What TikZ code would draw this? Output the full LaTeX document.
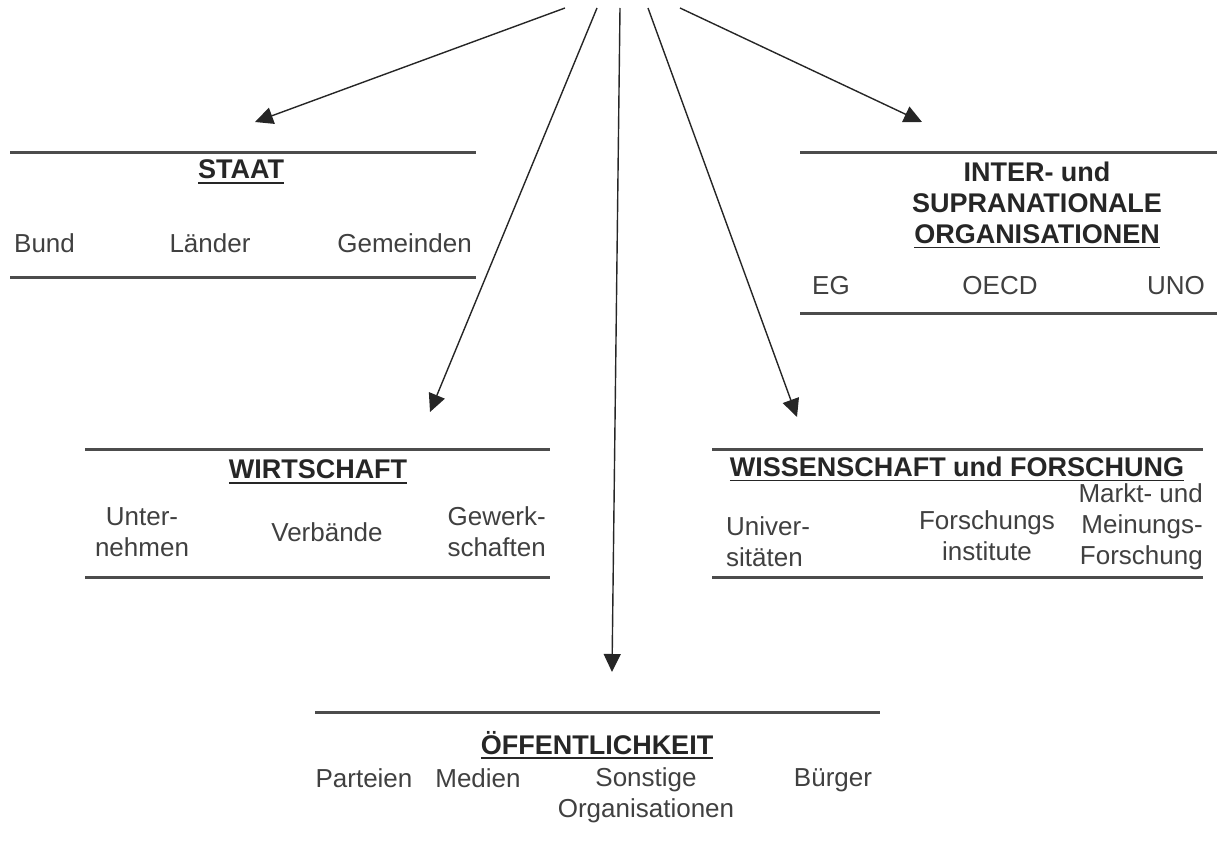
\documentclass[tikz,border=0pt]{standalone}
\usepackage{fontspec}
\setmainfont{Liberation Sans}
\usetikzlibrary{arrows.meta}
\newcommand\hdline[1]{\setbox0\hbox{#1}\rlap{\rule[-5pt]{\wd0}{1.6pt}}\box0}

\begin{document}
\begin{tikzpicture}[x=1pt,y=-1pt,
    bar/.style={line width=3pt,draw=black!70},
    arr/.style={draw=black!85,line width=1.4pt,-{Triangle[length=18pt,width=17pt]}},
    head/.style={font=\fontsize{27}{31}\selectfont\bfseries,text=black!85,inner sep=0pt},
    item/.style={font=\fontsize{26}{31}\selectfont,text=black!75,inner sep=0pt}]
    \useasboundingbox (0,0) rectangle (1219,856);

    \coordinate (srcStaat) at (565,8);
    \coordinate (srcWirt) at (597,8);
    \coordinate (srcOeff) at (620,8);
    \coordinate (srcWiss) at (648,8);
    \coordinate (srcInter) at (680,8);
    \coordinate (tipStaat) at (255,122);
    \coordinate (tipWirt) at (430,412);
    \coordinate (tipOeff) at (612,672);
    \coordinate (tipWiss) at (797,417);
    \coordinate (tipInter) at (922,122);

    \draw[bar] (10,153) -- (476,153);
    \node[head] (staat) at (241,172) {\hdline{STAAT}};
    \node[item,anchor=west] (bund) at (14,243) {Bund};
    \node[item] (laender) at (210,243) {Länder};
    \node[item,anchor=east] (gemeinden) at (472,243) {Gemeinden};
    \draw[bar] (10,277) -- (476,277);

    \draw[bar] (800,153) -- (1217,153);
    \node[head,align=center] (inter) at (1037,205) {INTER- und\\SUPRANATIONALE\\\hdline{ORGANISATIONEN}};
    \node[item,anchor=west] (eg) at (812,286) {EG};
    \node[item] (oecd) at (1000,286) {OECD};
    \node[item,anchor=east] (uno) at (1205,286) {UNO};
    \draw[bar] (800,313) -- (1217,313);

    \draw[bar] (85,449) -- (550,449);
    \node[head] (wirtschaft) at (318,472) {\hdline{WIRTSCHAFT}};
    \node[item,align=center] (unternehmen) at (142,532) {Unter-\\nehmen};
    \node[item] (verbaende) at (327,532) {Verbände};
    \node[item,align=right,anchor=east] (gewerkschaften) at (546,532) {Gewerk-\\schaften};
    \draw[bar] (85,577) -- (550,577);

    \draw[bar] (712,449) -- (1203,449);
    \node[head] (wissenschaft) at (957,469) {\hdline{WISSENSCHAFT und FORSCHUNG}};
    \node[item,align=left,anchor=west] (unis) at (726,542) {Univer-\\sitäten};
    \node[item,align=center] (institute) at (987,536) {Forschungs\\institute};
    \node[item,align=right,anchor=east] (markt) at (1203,527) {Markt- und\\Meinungs-\\Forschung};
    \draw[bar] (712,577) -- (1203,577);

    \draw[bar] (315,712) -- (880,712);
    \node[head] (oeff) at (597,745) {\hdline{ÖFFENTLICHKEIT}};
    \node[item] (parteien) at (364,778) {Parteien};
    \node[item] (medien) at (478,778) {Medien};
    \node[item,align=center] (sonstige) at (646,795) {Sonstige\\Organisationen};
    \node[item] (buerger) at (833,780) {Bürger};

    \draw[arr] (srcStaat) -- (tipStaat);
    \draw[arr] (srcWirt) -- (tipWirt);
    \draw[arr] (srcOeff) -- (tipOeff);
    \draw[arr] (srcWiss) -- (tipWiss);
    \draw[arr] (srcInter) -- (tipInter);
\end{tikzpicture}
\end{document}
